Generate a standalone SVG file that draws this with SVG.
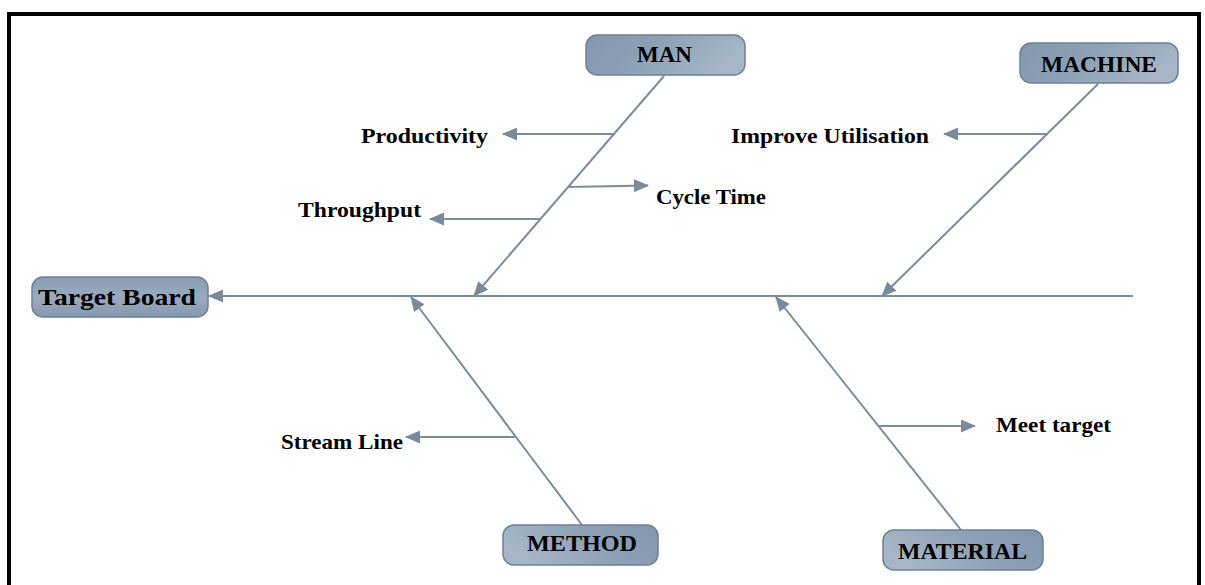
<svg xmlns="http://www.w3.org/2000/svg" width="1205" height="585" viewBox="0 0 1205 585">
  <style>
    .frame { fill: none; stroke: #000; stroke-width: 4; }
    .box { stroke: #6d8096; stroke-width: 1.5; }
    .bone { fill: none; stroke: #7d8c9c; stroke-width: 2; }
    .head { font-family: "Liberation Serif", "DejaVu Serif", serif; font-weight: bold; font-size: 24px; fill: #000; }
    .cause { font-family: "Liberation Serif", "DejaVu Serif", serif; font-weight: bold; font-size: 21px; fill: #000; }
  </style>
  <defs>
    <linearGradient id="fillLR" x1="0" y1="0" x2="1" y2="0.3">
      <stop offset="0" stop-color="#8296ad"/>
      <stop offset="0.5" stop-color="#8ea1b6"/>
      <stop offset="1" stop-color="#a6b6c6"/>
    </linearGradient>
    <linearGradient id="fillRL" x1="1" y1="0" x2="0" y2="0.3">
      <stop offset="0" stop-color="#8296ad"/>
      <stop offset="0.5" stop-color="#8ea1b6"/>
      <stop offset="1" stop-color="#a6b6c6"/>
    </linearGradient>
    <linearGradient id="fillTB" x1="0" y1="0" x2="0" y2="1">
      <stop offset="0" stop-color="#8a9db2"/>
      <stop offset="0.5" stop-color="#9aabbe"/>
      <stop offset="1" stop-color="#8598ae"/>
    </linearGradient>
    <marker id="arrow" viewBox="0 0 15 13" refX="14" refY="6.5" markerWidth="15" markerHeight="13" markerUnits="userSpaceOnUse" orient="auto">
      <path d="M0,0 L15,6.5 L0,13 Z" fill="#7a8a9b"/>
    </marker>
  </defs>

  <!-- page frame -->
  <rect class="frame" x="9" y="14" width="1190" height="600"/>

  <!-- connectors: spine, main bones and cause arrows -->
  <g id="connectors">
    <line class="bone" x1="1133" y1="296" x2="209" y2="296" marker-end="url(#arrow)"/>
    <line class="bone" x1="664" y1="76" x2="474" y2="296" marker-end="url(#arrow)"/>
    <line class="bone" x1="1098" y1="84" x2="882" y2="296" marker-end="url(#arrow)"/>
    <line class="bone" x1="582" y1="525" x2="411" y2="297" marker-end="url(#arrow)"/>
    <line class="bone" x1="961" y1="530" x2="776" y2="297" marker-end="url(#arrow)"/>

    <line class="bone" x1="613" y1="134" x2="503" y2="134" marker-end="url(#arrow)"/>
    <line class="bone" x1="568" y1="187" x2="648" y2="185.5" marker-end="url(#arrow)"/>
    <line class="bone" x1="540" y1="219" x2="430" y2="219" marker-end="url(#arrow)"/>
    <line class="bone" x1="1047" y1="134" x2="944" y2="134" marker-end="url(#arrow)"/>
    <line class="bone" x1="515" y1="437" x2="406" y2="437" marker-end="url(#arrow)"/>
    <line class="bone" x1="879" y1="426" x2="975" y2="426" marker-end="url(#arrow)"/>
  </g>

  <!-- effect -->
  <g id="target-board">
    <rect class="box" x="32" y="277" width="176" height="40" rx="11" fill="url(#fillTB)"/>
    <text class="head" x="38" y="305" font-size="26" textLength="158" lengthAdjust="spacingAndGlyphs">Target Board</text>
  </g>

  <!-- categories -->
  <g id="man">
    <rect class="box" x="586" y="35" width="159" height="40" rx="11" fill="url(#fillLR)"/>
    <text class="head" x="637" y="62" textLength="55" lengthAdjust="spacingAndGlyphs">MAN</text>
  </g>
  <g id="machine">
    <rect class="box" x="1020" y="43" width="158" height="40" rx="11" fill="url(#fillLR)"/>
    <text class="head" x="1041" y="72" textLength="116" lengthAdjust="spacingAndGlyphs">MACHINE</text>
  </g>
  <g id="method">
    <rect class="box" x="503" y="525" width="155" height="40" rx="11" fill="url(#fillRL)"/>
    <text class="head" x="527" y="551" textLength="110" lengthAdjust="spacingAndGlyphs">METHOD</text>
  </g>
  <g id="material">
    <rect class="box" x="883" y="530" width="160" height="40" rx="11" fill="url(#fillRL)"/>
    <text class="head" x="898" y="559" textLength="129" lengthAdjust="spacingAndGlyphs">MATERIAL</text>
  </g>

  <!-- causes -->
  <g id="productivity">
    <text class="cause" x="361" y="143" textLength="127" lengthAdjust="spacingAndGlyphs">Productivity</text>
  </g>
  <g id="cycle-time">
    <text class="cause" x="656" y="204" textLength="110" lengthAdjust="spacingAndGlyphs">Cycle Time</text>
  </g>
  <g id="throughput">
    <text class="cause" x="298" y="217" textLength="123" lengthAdjust="spacingAndGlyphs">Throughput</text>
  </g>
  <g id="improve-utilisation">
    <text class="cause" x="731" y="143" textLength="198" lengthAdjust="spacingAndGlyphs">Improve Utilisation</text>
  </g>
  <g id="stream-line">
    <text class="cause" x="281" y="449" textLength="122" lengthAdjust="spacingAndGlyphs">Stream Line</text>
  </g>
  <g id="meet-target">
    <text class="cause" x="996" y="432" textLength="115" lengthAdjust="spacingAndGlyphs">Meet target</text>
  </g>
</svg>
